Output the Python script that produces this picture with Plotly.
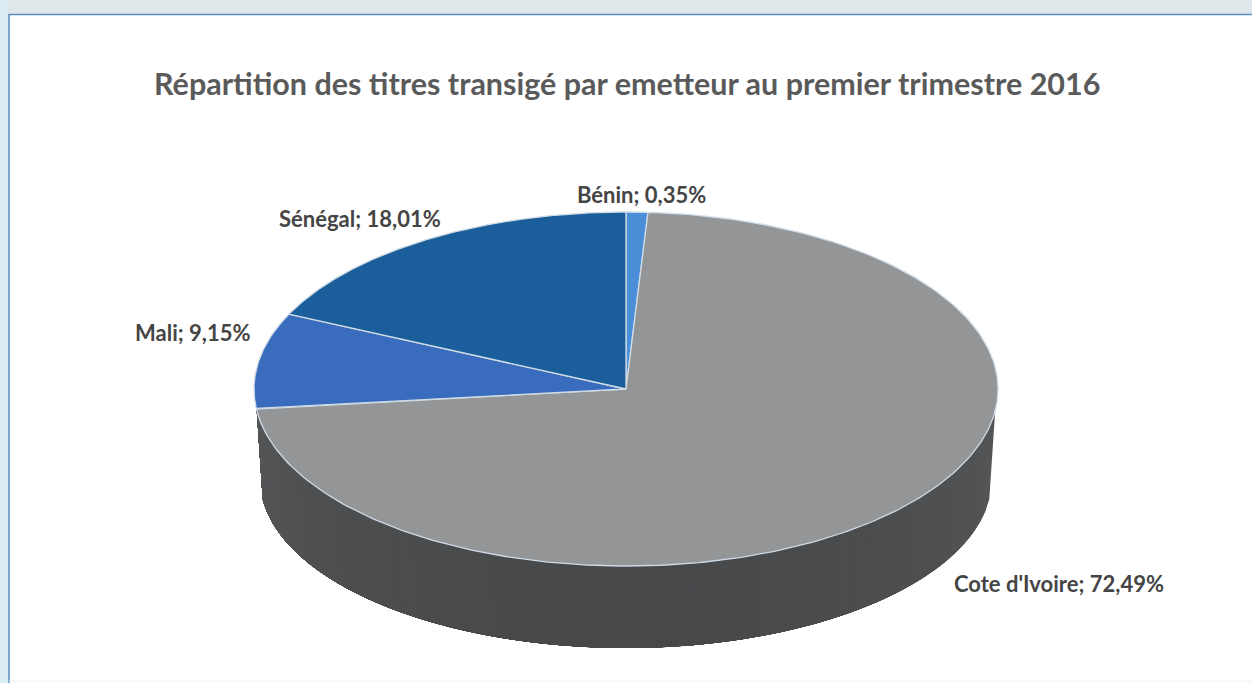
import numpy as np
import plotly.graph_objects as go

# Data
categories = ["Bénin", "Cote d'Ivoire", "Mali", "Sénégal"]
printed_percent = [0.35, 72.49, 9.15, 18.01]      # as printed in the data labels
drawn_share = [0.94, 72.25, 8.75, 18.06]          # slice sizes
slice_colors = ["#4a8fd8", "#939597", "#3a6cbd", "#1a5f9c"]
label_xy = [(641, 194), (1059, 583), (192, 332), (360, 218)]
title_text = "Répartition des titres transigé par emetteur au premier trimestre 2016"

# Geometry of the 3D pie, in the pixel space of the axes
CX, CY, RX, RY = 626, 389, 372, 177
BX, BY, BRX, BRY = 626, 479, 366, 169
FONT = "Lato"


def arc(cx, cy, rx, ry, a0, a1, n=240):
    t = np.radians(np.linspace(a0, a1, n))
    return cx + rx * np.sin(t), cy - ry * np.cos(t)


fig = go.Figure()


def add_poly(x, y, fill, line=None, width=0):
    fig.add_trace(go.Scatter(
        x=x, y=y, mode="lines", fill="toself", fillcolor=fill,
        line=dict(color=line or fill, width=width),
        hoverinfo="skip", showlegend=False))


# Side wall: shaded bands, each painted over the previous to avoid seams
edges = np.linspace(97, 263, 49)
for a0 in edges[:-1]:
    shade = 70 + 14 * (abs(a0 - 178) / 85) ** 1.6
    c = f"rgb({shade:.0f},{shade + 2:.0f},{shade + 4:.0f})"
    xt, yt = arc(CX, CY, RX, RY, a0, 263, 120)
    xb, yb = arc(BX, BY, BRX, BRY, 263, a0, 120)
    add_poly(np.r_[xt, xb, xt[0]], np.r_[yt, yb, yt[0]], c)

# Top face wedges, clockwise from 12 o'clock
angles = np.cumsum([0] + drawn_share) / sum(drawn_share) * 360
for i, color in enumerate(slice_colors):
    xa, ya = arc(CX, CY, RX, RY, angles[i], angles[i + 1], 300)
    add_poly(np.r_[CX, xa, CX], np.r_[CY, ya, CY], color, "#cfdbe6", 1.3)

# Data labels
for name, pct, (lx, ly) in zip(categories, printed_percent, label_xy):
    fig.add_annotation(
        x=lx, y=ly, xref="x", yref="y", showarrow=False,
        text=f"<b>{name}; {pct:.2f}%</b>".replace(".", ","),
        font=dict(family=FONT, size=22, color="#454545"))

fig.add_annotation(
    x=627, y=83, xref="x", yref="y", showarrow=False, text=f"<b>{title_text}</b>",
    font=dict(family=FONT, size=30.5, color="#5a5a5a"))

fig.update_layout(
    width=1252, height=683, autosize=False,
    margin=dict(l=0, r=0, t=0, b=0),
    paper_bgcolor="#ffffff", plot_bgcolor="#ffffff",
    showlegend=False,
    xaxis=dict(range=[0, 1252], visible=False, fixedrange=True),
    yaxis=dict(range=[683, 0], visible=False, fixedrange=True),
    shapes=[
        dict(type="rect", xref="x", yref="y", x0=0, x1=1252, y0=0, y1=14,
             fillcolor="#dfe7ea", line_width=0, layer="below"),
        dict(type="rect", xref="x", yref="y", x0=0, x1=8, y0=0, y1=683,
             fillcolor="#d9edf3", line_width=0, layer="below"),
        dict(type="line", xref="x", yref="y", x0=8.5, x1=1252, y0=14.5, y1=14.5,
             line=dict(color="#5b8fc4", width=1.6)),
        dict(type="line", xref="x", yref="y", x0=9, x1=9, y0=14, y1=683,
             line=dict(color="#5b8fc4", width=1.6)),
        dict(type="line", xref="x", yref="y", x0=9, x1=1252, y0=681, y1=681,
             line=dict(color="#f1f1f1", width=1)),
    ],
)

fig.write_html("out.html", config=dict(displayModeBar=False),
               post_script="document.body.style.margin='0';document.documentElement.style.overflow='hidden';")
